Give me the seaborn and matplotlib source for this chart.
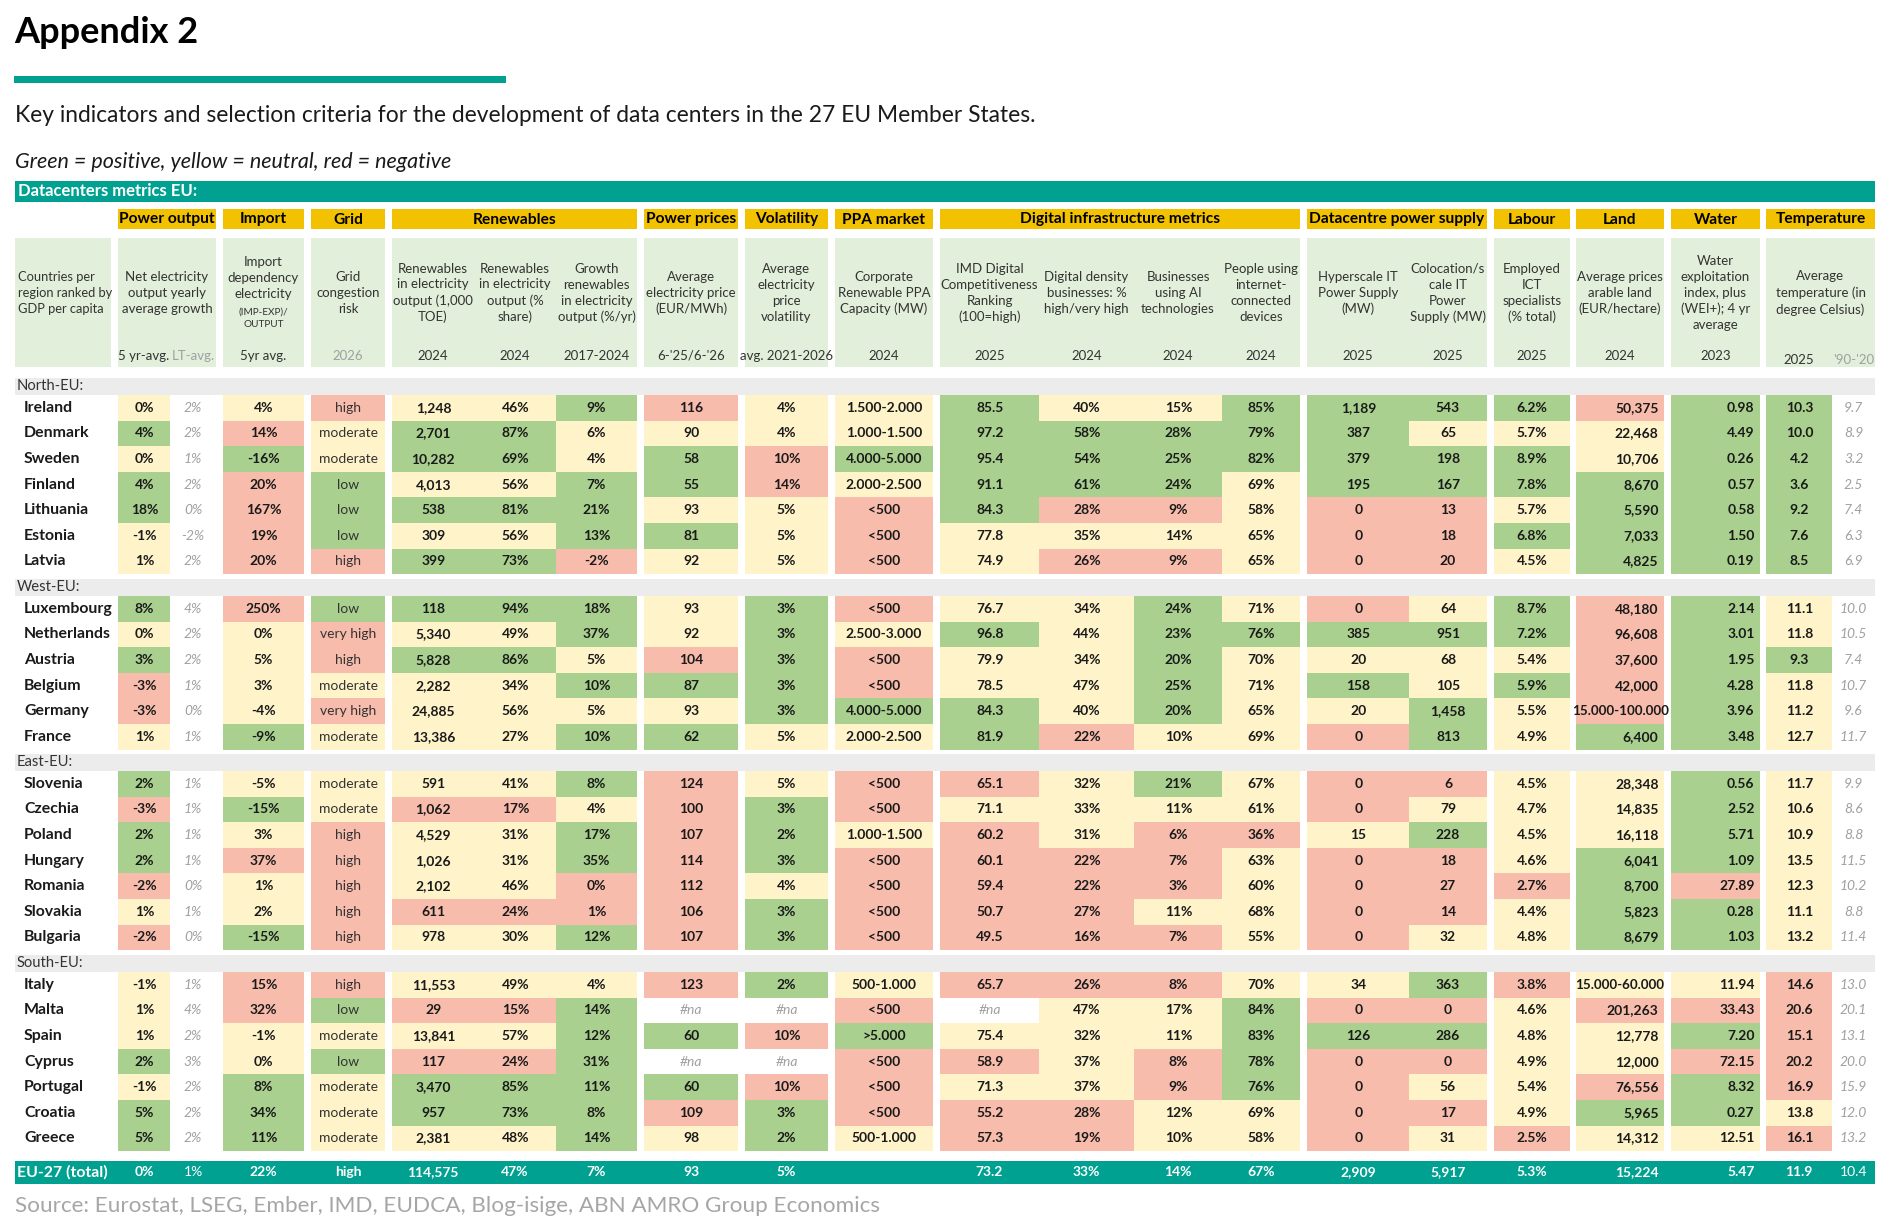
import matplotlib
matplotlib.use("Agg")
import matplotlib.pyplot as plt
from matplotlib.colors import ListedColormap
from matplotlib.patches import Rectangle
import numpy as np
import seaborn as sns

sns.set_theme(style="white")
plt.rcParams["font.family"] = ["Lato", "DejaVu Sans"]

# canvas size in pixels
W, H = 1894, 1222

# palette
RED = "#f8bcac"
YELLOW = "#fff3c9"
GREEN = "#a9d08e"
TEAL = "#00a190"
GOLD = "#f2c100"
PALE = "#e2efda"
BAND = "#ececec"
INK = "#1a1a1a"
GREY = "#a0a0a0"

# ---------------------------------------------------------------- data
regions = ["North-EU:", "West-EU:", "East-EU:", "South-EU:"]
north = ["Ireland", "Denmark", "Sweden", "Finland", "Lithuania", "Estonia", "Latvia"]
west = ["Luxembourg", "Netherlands", "Austria", "Belgium", "Germany", "France"]
east = ["Slovenia", "Czechia", "Poland", "Hungary", "Romania", "Slovakia", "Bulgaria"]
south = ["Italy", "Malta", "Spain", "Cyprus", "Portugal", "Croatia", "Greece"]
region_countries = [north, west, east, south]

# colour codes: R = negative, Y = neutral, G = positive, N = no colour
net_growth = ["0%", "4%", "0%", "4%", "18%", "-1%", "1%",
              "8%", "0%", "3%", "-3%", "-3%", "1%",
              "2%", "-3%", "2%", "2%", "-2%", "1%", "-2%",
              "-1%", "1%", "1%", "2%", "-1%", "5%", "5%"]
net_growth_c = "YGYGGYY" "GYGRRY" "GRGGRYR" "YYYGYGG"

net_lt = ["2%", "2%", "1%", "2%", "0%", "-2%", "2%",
          "4%", "2%", "2%", "1%", "0%", "1%",
          "1%", "1%", "1%", "1%", "0%", "1%", "0%",
          "1%", "4%", "2%", "3%", "2%", "2%", "2%"]

import_dep = ["4%", "14%", "-16%", "20%", "167%", "19%", "20%",
              "250%", "0%", "5%", "3%", "-4%", "-9%",
              "-5%", "-15%", "3%", "37%", "1%", "2%", "-15%",
              "15%", "32%", "-1%", "0%", "8%", "34%", "11%"]
import_dep_c = "YRGRRRR" "RYYYYG" "YGYRYYG" "RRYYGGG"

grid_risk = ["high", "moderate", "moderate", "low", "low", "low", "high",
             "low", "very high", "high", "moderate", "very high", "moderate",
             "moderate", "moderate", "high", "high", "high", "high", "high",
             "high", "low", "moderate", "low", "moderate", "moderate", "moderate"]
grid_risk_c = "RYYGGGR" "GRRYRY" "YYRRRRR" "RGYGYYY"

ren_toe = ["1,248", "2,701", "10,282", "4,013", "538", "309", "399",
           "118", "5,340", "5,828", "2,282", "24,885", "13,386",
           "591", "1,062", "4,529", "1,026", "2,102", "611", "978",
           "11,553", "29", "13,841", "117", "3,470", "957", "2,381"]
ren_share = ["46%", "87%", "69%", "56%", "81%", "56%", "73%",
             "94%", "49%", "86%", "34%", "56%", "27%",
             "41%", "17%", "31%", "31%", "46%", "24%", "30%",
             "49%", "15%", "57%", "24%", "85%", "73%", "48%"]
ren_c = "YGGYGYG" "GYGYYY" "YRYYYRY" "YRYRGGY"

ren_growth = ["9%", "6%", "4%", "7%", "21%", "13%", "-2%",
              "18%", "37%", "5%", "10%", "5%", "10%",
              "8%", "4%", "17%", "35%", "0%", "1%", "12%",
              "4%", "14%", "12%", "31%", "11%", "8%", "14%"]
ren_growth_c = "GYYGGGR" "GGYGYG" "GYGGRRG" "YGGGGGG"

price = ["116", "90", "58", "55", "93", "81", "92",
         "93", "92", "104", "87", "93", "62",
         "124", "100", "107", "114", "112", "106", "107",
         "123", "#na", "60", "#na", "60", "109", "98"]
price_c = "RYGGYGY" "YYRGYG" "RRRRRRR" "RNGNGRY"

volatility = ["4%", "4%", "10%", "14%", "5%", "5%", "5%",
              "3%", "3%", "3%", "3%", "3%", "5%",
              "5%", "3%", "2%", "3%", "4%", "3%", "3%",
              "2%", "#na", "10%", "#na", "10%", "3%", "2%"]
volatility_c = "YYRRYYY" "GGGGGY" "YGGGYGG" "GNRNRGG"

ppa = ["1.500-2.000", "1.000-1.500", "4.000-5.000", "2.000-2.500", "<500", "<500", "<500",
       "<500", "2.500-3.000", "<500", "<500", "4.000-5.000", "2.000-2.500",
       "<500", "<500", "1.000-1.500", "<500", "<500", "<500", "<500",
       "500-1.000", "<500", ">5.000", "<500", "<500", "<500", "500-1.000"]
ppa_c = "YYGYRRR" "RYRRGY" "RRYRRRR" "YRGRRRY"

imd = ["85.5", "97.2", "95.4", "91.1", "84.3", "77.8", "74.9",
       "76.7", "96.8", "79.9", "78.5", "84.3", "81.9",
       "65.1", "71.1", "60.2", "60.1", "59.4", "50.7", "49.5",
       "65.7", "#na", "75.4", "58.9", "71.3", "55.2", "57.3"]
imd_c = "GGGGGYY" "YGYYGG" "RYRRRRR" "RNYRYRR"

density = ["40%", "58%", "54%", "61%", "28%", "35%", "26%",
           "34%", "44%", "34%", "47%", "40%", "22%",
           "32%", "33%", "31%", "22%", "22%", "27%", "16%",
           "26%", "47%", "32%", "37%", "37%", "28%", "19%"]
density_c = "YGGGRYR" "YYYYYR" "YYYRRRR" "RYYYYRR"

ai_use = ["15%", "28%", "25%", "24%", "9%", "14%", "9%",
          "24%", "23%", "20%", "25%", "20%", "10%",
          "21%", "11%", "6%", "7%", "3%", "11%", "7%",
          "8%", "17%", "11%", "8%", "9%", "12%", "10%"]
ai_use_c = "YGGGRYR" "GGGGGY" "GYRRRYR" "RYYRRYY"

iot = ["85%", "79%", "82%", "69%", "58%", "65%", "65%",
       "71%", "76%", "70%", "71%", "65%", "69%",
       "67%", "61%", "36%", "63%", "60%", "68%", "55%",
       "70%", "84%", "83%", "78%", "76%", "69%", "58%"]
iot_c = "GGGYYYY" "YGYYYY" "YYRYYYY" "YGGGGYY"

hyperscale = ["1,189", "387", "379", "195", "0", "0", "0",
              "0", "385", "20", "158", "20", "0",
              "0", "0", "15", "0", "0", "0", "0",
              "34", "0", "126", "0", "0", "0", "0"]
hyperscale_c = "GGGGRRR" "RGYGYR" "RRYRRRR" "YRGRRRR"

colocation = ["543", "65", "198", "167", "13", "18", "20",
              "64", "951", "68", "105", "1,458", "813",
              "6", "79", "228", "18", "27", "14", "32",
              "363", "0", "286", "0", "56", "17", "31"]
colocation_c = "GYGGRRR" "YGYYGG" "RYGRRRY" "GRGRYRY"

ict = ["6.2%", "5.7%", "8.9%", "7.8%", "5.7%", "6.8%", "4.5%",
       "8.7%", "7.2%", "5.4%", "5.9%", "5.5%", "4.9%",
       "4.5%", "4.7%", "4.5%", "4.6%", "2.7%", "4.4%", "4.8%",
       "3.8%", "4.6%", "4.8%", "4.9%", "5.4%", "4.9%", "2.5%"]
ict_c = "GYGGYGY" "GGYGYY" "YYYYRYY" "RYYYYYR"

land = ["50,375", "22,468", "10,706", "8,670", "5,590", "7,033", "4,825",
        "48,180", "96,608", "37,600", "42,000", "15.000-100.000", "6,400",
        "28,348", "14,835", "16,118", "6,041", "8,700", "5,823", "8,679",
        "15.000-60.000", "201,263", "12,778", "12,000", "76,556", "5,965", "14,312"]
land_c = "RYYGGGG" "RRRRRG" "YYYGGGG" "YRYYRGY"

water = ["0.98", "4.49", "0.26", "0.57", "0.58", "1.50", "0.19",
         "2.14", "3.01", "1.95", "4.28", "3.96", "3.48",
         "0.56", "2.52", "5.71", "1.09", "27.89", "0.28", "1.03",
         "11.94", "33.43", "7.20", "72.15", "8.32", "0.27", "12.51"]
water_c = "GGGGGGG" "GGGGGG" "GGGGRGG" "YRGRGGY"

temp = ["10.3", "10.0", "4.2", "3.6", "9.2", "7.6", "8.5",
        "11.1", "11.8", "9.3", "11.8", "11.2", "12.7",
        "11.7", "10.6", "10.9", "13.5", "12.3", "11.1", "13.2",
        "14.6", "20.6", "15.1", "20.2", "16.9", "13.8", "16.1"]
temp_c = "GGGGGGG" "YYGYYY" "YYYYYYY" "RRRRRYR"

temp_lt = ["9.7", "8.9", "3.2", "2.5", "7.4", "6.3", "6.9",
           "10.0", "10.5", "7.4", "10.7", "9.6", "11.7",
           "9.9", "8.6", "8.8", "11.5", "10.2", "8.8", "11.4",
           "13.0", "20.1", "13.1", "20.0", "15.9", "12.0", "13.2"]

eu_total = ["0%", "1%", "22%", "high", "114,575", "47%", "7%", "93", "5%", "",
            "73.2", "33%", "14%", "67%", "2,909", "5,917", "5.3%", "15,224",
            "5.47", "11.9", "10.4"]

groups = ["Power output", "Import", "Grid", "Renewables", "Power prices",
          "Volatility", "PPA market", "Digital infrastructure metrics",
          "Datacentre power supply", "Labour", "Land", "Water", "Temperature"]

sub_headers = ["Net electricity\noutput yearly\naverage growth", None,
               None, "Grid\ncongestion\nrisk",
               "Renewables\nin electricity\noutput (1,000\nTOE)",
               "Renewables\nin electricity\noutput (%\nshare)",
               "Growth\nrenewables\nin electricity\noutput (%/yr)",
               "Average\nelectricity price\n(EUR/MWh)",
               "Average\nelectricity\nprice\nvolatility",
               "Corporate\nRenewable PPA\nCapacity (MW)",
               "IMD Digital\nCompetitiveness\nRanking\n(100=high)",
               "Digital density\nbusinesses: %\nhigh/very high",
               "Businesses\nusing AI\ntechnologies",
               "People using\ninternet-\nconnected\ndevices",
               "Hyperscale IT\nPower Supply\n(MW)",
               "Colocation/s\ncale IT\nPower\nSupply (MW)",
               "Employed\nICT\nspecialists\n(% total)",
               "Average prices\narable land\n(EUR/hectare)",
               "Water\nexploitation\nindex, plus\n(WEI+); 4 yr\naverage",
               "Average\ntemperature (in\ndegree Celsius)", None]
years = ["5 yr-avg.", "LT-avg.", "5yr avg.", "2026", "2024", "2024", "2017-2024",
         "6-'25/6-'26", "avg. 2021-2026", "2024", "2025", "2024", "2024", "2024",
         "2025", "2025", "2025", "2024", "2023", "2025", "'90-'20"]
grey_years = {"LT-avg.", "2026", "'90-'20"}

# ---------------------------------------------------------------- layout
# (values, colour codes, left px, right px, alignment, text style, group index)
columns = [
    (net_growth, net_growth_c, 118, 170, "center", "value", 0),
    (net_lt, None, 170, 216, "center", "lt", 0),
    (import_dep, import_dep_c, 223, 304, "center", "value", 1),
    (grid_risk, grid_risk_c, 311, 385, "center", "plain", 2),
    (ren_toe, ren_c, 392, 474, "center", "value", 3),
    (ren_share, ren_c, 474, 556, "center", "value", 3),
    (ren_growth, ren_growth_c, 556, 637, "center", "value", 3),
    (price, price_c, 644, 738, "center", "value", 4),
    (volatility, volatility_c, 745, 828, "center", "value", 5),
    (ppa, ppa_c, 835, 933, "center", "value", 6),
    (imd, imd_c, 940, 1039, "center", "value", 7),
    (density, density_c, 1039, 1134, "center", "value", 7),
    (ai_use, ai_use_c, 1134, 1222, "center", "value", 7),
    (iot, iot_c, 1222, 1300, "center", "value", 7),
    (hyperscale, hyperscale_c, 1307, 1409, "center", "value", 8),
    (colocation, colocation_c, 1409, 1487, "center", "value", 8),
    (ict, ict_c, 1494, 1570, "center", "value", 9),
    (land, land_c, 1576, 1664, "right", "value", 10),
    (water, water_c, 1671, 1760, "right", "value", 11),
    (temp, temp_c, 1766, 1832, "center", "value", 12),
    (temp_lt, None, 1832, 1875, "center", "lt", 12),
]
LEFT, RIGHT = 15, 1875
REGION_TOP = [395, 596, 771, 972]
ROW_H = 25.6
BAND_H = 17.5
PAD = 5.5
VALUE_FS = 10
CODE = {"R": 0, "Y": 1, "G": 2, "N": 3}
cmap = ListedColormap([RED, YELLOW, GREEN, "white"])

fig = plt.figure(figsize=(W / 100, H / 100), dpi=100)
bg = fig.add_axes([0, 0, 1, 1])
bg.set_xlim(0, W)
bg.set_ylim(H, 0)
bg.set_axis_off()


def box(x0, x1, y0, y1, color):
    bg.add_patch(Rectangle((x0, y0), x1 - x0, y1 - y0, facecolor=color, lw=0))


# titles
bg.text(14, 43, "Appendix 2", fontsize=26, fontweight="bold", color="black", va="baseline")
box(14, 506, 76, 83, TEAL)
bg.text(15, 122, "Key indicators and selection criteria for the development of data "
        "centers in the 27 EU Member States.", fontsize=16.4, color=INK, va="baseline")
bg.text(15, 168, "Green = positive, yellow = neutral, red = negative",
        fontsize=15.5, style="italic", color=INK, va="baseline")
box(LEFT, RIGHT, 181, 202, TEAL)
bg.text(18, 191.5, "Datacenters metrics EU:", fontsize=12, fontweight="bold",
        color="white", va="center")

# group header spans follow the column edges
spans = {}
for col in columns:
    g = col[6]
    lo, hi = spans.get(g, (col[2], col[3]))
    spans[g] = (min(lo, col[2]), max(hi, col[3]))

box(LEFT, 111, 238, 367, PALE)
bg.text(18, 293, "Countries per\nregion ranked by\nGDP per capita", fontsize=9.3,
        color="#333333", va="center", ha="left", linespacing=1.4)
for g, name in enumerate(groups):
    lo, hi = spans[g]
    box(lo, hi, 209, 229, GOLD)
    box(lo, hi, 238, 367, PALE)
    bg.text((lo + hi) / 2, 219.5, name, fontsize=11.2, fontweight="bold",
            color="black", ha="center", va="center")

for i, col in enumerate(columns):
    x0, x1, g = col[2], col[3], col[6]
    xc = (x0 + x1) / 2
    text = sub_headers[i]
    if g in (0, 12) and text:
        xc_h = sum(spans[g]) / 2
    else:
        xc_h = xc
    if text:
        bg.text(xc_h, 293, text, fontsize=9.5, color="#333333", ha="center",
                va="center", linespacing=1.38)
    yy = 360 if g == 12 else 356
    bg.text(xc, yy, years[i], fontsize=9.5, ha="center", va="center",
            color=GREY if years[i] in grey_years else "#333333")

# import header has a smaller formula part
imp_x = (columns[2][2] + columns[2][3]) / 2
bg.text(imp_x, 278, "Import\ndependency\nelectricity", fontsize=9.5, color="#333333",
        ha="center", va="center", linespacing=1.38)
bg.text(imp_x, 318.5, "(IMP-EXP)/\nOUTPUT", fontsize=7.2, color="#333333",
        ha="center", va="center", linespacing=1.45)

# ---------------------------------------------------------------- table body
start = 0
for r, names in enumerate(region_countries):
    n = len(names)
    y0 = REGION_TOP[r]
    y1 = y0 + n * ROW_H
    box(LEFT, RIGHT, y0 - BAND_H, y0, BAND)
    bg.text(17, y0 - BAND_H / 2, regions[r], fontsize=10.6, color="#333333", va="center")
    for k, name in enumerate(names):
        bg.text(24, y0 + (k + 0.5) * ROW_H, name, fontsize=11.4, fontweight="bold",
                color=INK, va="center")

    for j, (vals, codes, x0, x1, align, style, g) in enumerate(columns):
        adjacent = j + 1 < len(columns) and columns[j + 1][2] == x1
        width = x1 - x0 + (0.8 if adjacent else 0)
        ax = fig.add_axes([x0 / W, 1 - y1 / H, width / W, (y1 - y0) / H])
        block = vals[start:start + n]
        cc = codes[start:start + n] if codes else "N" * n
        z = np.array([[CODE[c]] for c in cc])
        lab = np.array([[v] for v in block])
        sns.heatmap(z, ax=ax, cmap=cmap, vmin=-0.5, vmax=3.5, cbar=False,
                    annot=lab, fmt="", linewidths=0,
                    xticklabels=False, yticklabels=False,
                    annot_kws=dict(fontsize=VALUE_FS, fontweight="bold", color=INK))
        ax.set_axis_off()
        for t, v in zip(ax.texts, block):
            if v == "#na" or style == "lt":
                t.set_color(GREY)
                t.set_fontstyle("italic")
                t.set_fontweight("normal")
            elif style == "plain":
                t.set_fontweight("normal")
                t.set_color("#333333")
            if align == "right" and "-" not in v:
                t.set_ha("right")
                t.set_x(1 - PAD / width)
            if "-" in v and len(v) > 12:
                t.set_fontsize(VALUE_FS - 0.4)
    start += n

# EU-27 total row
box(LEFT, RIGHT, 1161, 1184, TEAL)
bg.text(17, 1172.5, "EU-27 (total)", fontsize=11.4, fontweight="bold",
        color="white", va="center")
for (vals, codes, x0, x1, align, style, g), v in zip(columns, eu_total):
    if align == "right":
        bg.text(x1 - PAD, 1172.5, v, fontsize=VALUE_FS, fontweight="bold", color="white",
                ha="right", va="center")
    else:
        bg.text((x0 + x1) / 2, 1172.5, v, fontsize=VALUE_FS, color="white", ha="center",
                va="center", fontweight="normal" if style == "lt" else "bold")

bg.text(15, 1212, "Source: Eurostat, LSEG, Ember, IMD, EUDCA, Blog-isige, ABN AMRO "
        "Group Economics", fontsize=16.2, color="#a6a6a6", va="baseline")

fig.savefig("out.png", dpi=100, facecolor="white")
